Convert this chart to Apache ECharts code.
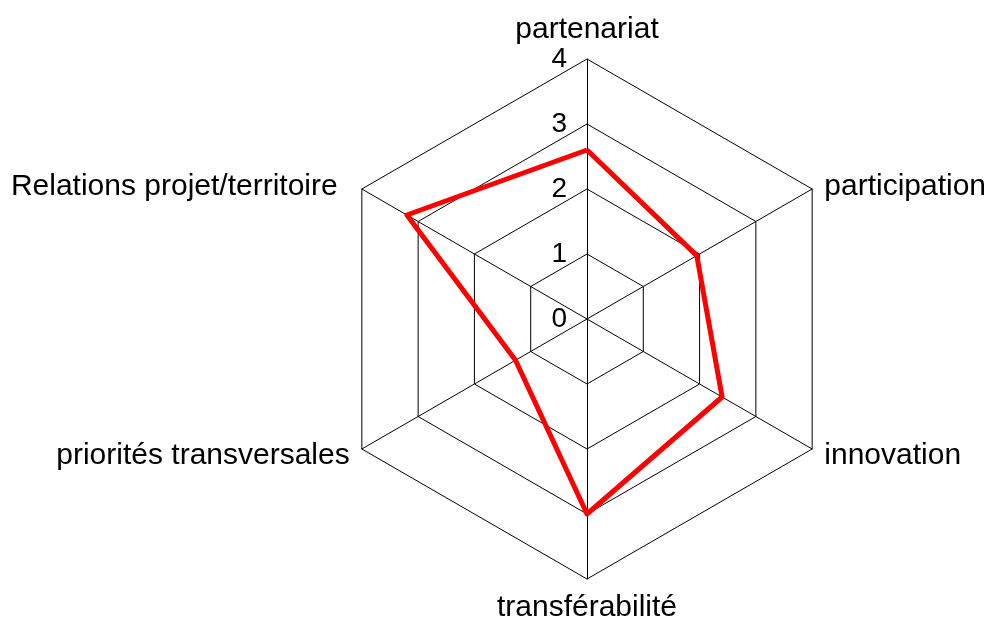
<!DOCTYPE html>
<html>
<head>
<meta charset="utf-8">
<script src="https://cdn.jsdelivr.net/npm/echarts@6/dist/echarts.min.js"></script>
<style>
  html, body { margin: 0; padding: 0; background: #fff; }
  #chart { width: 1002px; height: 626px; }
</style>
</head>
<body>
<div id="chart"></div>
<script>
// clockwise from the top
const axes = ["partenariat", "participation", "innovation", "transférabilité", "priorités transversales", "Relations projet/territoire"];
const scores = [2.6, 1.95, 2.4, 3, 1.27, 3.2];
const ticks = [0, 1, 2, 3, 4];

// echarts lays indicators out counter-clockwise, so keep the first and flip the rest
const ccw = (arr) => [arr[0]].concat(arr.slice(1).reverse());

const font = "'Liberation Sans', Arial, sans-serif";

// small nudges so the upper names sit a bit lower, like the original
const nameNudge = {
  "participation": { verticalAlign: "top", padding: [-10, 0, 0, 0] },
  "Relations projet/territoire": { verticalAlign: "top", padding: [-10, 12, 0, 0] }
};

const chart = echarts.init(document.getElementById("chart"));

chart.setOption({
  animation: false,
  radar: {
    center: [587, 319],
    radius: 260,
    shape: "polygon",
    splitNumber: ticks.length - 1,
    nameGap: 14,
    axisName: { color: "#000", fontSize: 30, fontFamily: font },
    indicator: ccw(axes).map((name, i) => ({
      name: name,
      min: ticks[0],
      max: ticks[ticks.length - 1],
      nameTextStyle: Object.assign({ color: "#000", fontSize: 30, fontFamily: font }, nameNudge[name]),
      axisLabel: i === 0 ? { show: true } : { show: false }
    })),
    axisLine: { lineStyle: { color: "#000", width: 1 } },
    splitLine: { lineStyle: { color: "#000", width: 1 } },
    splitArea: { show: false },
    axisTick: { show: false },
    axisLabel: { show: false, color: "#000", fontSize: 28, fontFamily: font, margin: 20 }
  },
  series: [{
    type: "radar",
    symbol: "none",
    lineStyle: { color: "#ff0000", width: 5 },
    data: [{ value: ccw(scores), name: "score" }]
  }]
});
</script>
</body>
</html>
